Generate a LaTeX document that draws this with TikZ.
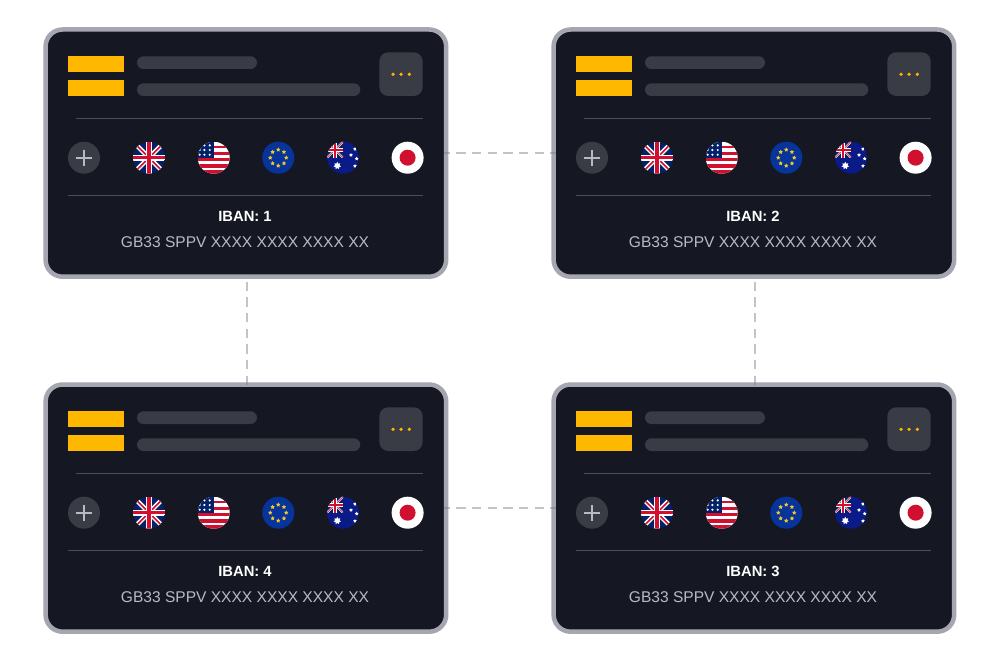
\documentclass[tikz,border=0pt]{standalone}
\usepackage{fontspec}
\setmainfont{Liberation Sans}
\definecolor{cardbg}{HTML}{151823}
\definecolor{cardedge}{HTML}{A6A6B0}
\definecolor{gold}{HTML}{FFB800}
\definecolor{pill}{HTML}{393C45}
\definecolor{rulec}{HTML}{4C4E59}
\definecolor{plusc}{HTML}{B9B9C1}
\definecolor{subtext}{HTML}{B9BAC2}
\definecolor{dashc}{HTML}{7C7A8A}
\definecolor{ukblue}{HTML}{012169}
\definecolor{flagred}{HTML}{D0102E}
\definecolor{eublue}{HTML}{06349B}
\definecolor{eustar}{HTML}{F5C82A}
\definecolor{aublue}{HTML}{0A1A86}
\newcommand{\starpath}[1]{(-90:#1) -- (-126:#1*.5) -- (-162:#1) -- (-198:#1*.5) -- (-234:#1) -- (-270:#1*.5) -- (-306:#1) -- (-342:#1*.5) -- (-18:#1) -- (-54:#1*.5) -- cycle}
\newcommand{\sevenpath}[1]{(-90:#1) -- (-115.7:#1*.6) -- (-141.4:#1) -- (-167.1:#1*.6) -- (-192.9:#1) -- (-218.6:#1*.6) -- (-244.3:#1) -- (-270:#1*.6) -- (-295.7:#1) -- (-321.4:#1*.6) -- (-347.1:#1) -- (-12.9:#1*.6) -- (-38.6:#1) -- (-64.3:#1*.6) -- cycle}
% #1 = half size, #2..#5 = widths of white diagonal, red diagonal, white cross, red cross
\newcommand{\unionjack}[5]{%
  \fill[ukblue] (-#1,-#1) rectangle (#1,#1);
  \draw[white,line width=#2pt] (-#1,-#1) -- (#1,#1) (-#1,#1) -- (#1,-#1);
  \draw[flagred,line width=#3pt] (-#1,-#1) -- (#1,#1) (-#1,#1) -- (#1,-#1);
  \draw[white,line width=#4pt] (-#1,0) -- (#1,0) (0,-#1) -- (0,#1);
  \draw[flagred,line width=#5pt] (-#1,0) -- (#1,0) (0,-#1) -- (0,#1);
}
\tikzset{
  x=1pt,y=-1pt,
  cardbox/.style={rectangle,draw=cardedge,fill=cardbg,line width=4.5pt,rounded corners=17pt,minimum width=400.6pt,minimum height=247.2pt,inner sep=0pt,outer sep=0pt},
  goldbar/.style={fill=gold},
  greypill/.style={fill=pill,rounded corners=6.4pt},
  hairline/.style={draw=rulec,line width=1pt},
  link/.style={draw=dashc,draw opacity=.45,line width=1.8pt,dash pattern=on 9.3pt off 6.37pt},
  ibanhead/.style={font=\fontsize{14.8}{16}\selectfont\bfseries,text=white,inner sep=0pt},
  ibansub/.style={font=\fontsize{15.55}{17}\selectfont,text=subtext,inner sep=0pt},
  ukflag/.pic={
    \begin{scope}\clip (0,0) circle[radius=16];\unionjack{16}{4.6}{1.5}{6.4}{3.2}\end{scope}
  },
  usflag/.pic={
    \begin{scope}
      \clip (0,0) circle[radius=16];
      \fill[white] (-16,-16) rectangle (16,16);
      \foreach \a/\b in {-12/-9.5,-6/-3,0/3,6.5/10.5,12.5/16} \fill[flagred] (-16,\a) rectangle (16,\b);
      \fill[ukblue] (-16,-16) rectangle (0,0);
      \foreach \px in {-14,-9.3,-4} \foreach \py in {-12.3,-7.7,-3} \fill[white] (\px,\py) circle[radius=1.2];
    \end{scope}
  },
  euflag/.pic={
    \fill[eublue] (0,0) circle[radius=16];
    \foreach \t in {0,45,...,315} {
      \fill[eustar,shift={(\t:8)}] \starpath{2.3};
    }
  },
  auflag/.pic={
    \begin{scope}
      \clip (0,0) circle[radius=16];
      \fill[aublue] (-16,-16) rectangle (16,16);
      \begin{scope}
        \clip (-16,-16) rectangle (0,0);
        \begin{scope}[shift={(-8,-8)}]\unionjack{8}{2}{.7}{3.6}{2}\end{scope}
      \end{scope}
      \fill[white,shift={(-5.7,8)}] \sevenpath{3.8};
      \foreach \px/\py in {8/-2.7,12/-8.7,13.7/1,12/8.3} \fill[white,shift={(\px,\py)}] \starpath{2};
    \end{scope}
  },
  jpflag/.pic={
    \fill[white] (0,0) circle[radius=16];
    \fill[flagred] (0,0) circle[radius=8];
  },
}
\newcommand{\bankcard}[4]{%
  \node[cardbox] (#1) at (245.9+#2,153.1+#3) {};
  \begin{scope}[shift={(#2,#3)}]
    \fill[goldbar] (68.3,56.3) rectangle (123.7,72.3);
    \fill[goldbar] (68.3,80.3) rectangle (123.7,96);
    \fill[greypill] (137,56.3) rectangle (257,69);
    \fill[greypill] (137,83.3) rectangle (360.3,96);
    \fill[pill,rounded corners=9pt] (379.3,52.3) rectangle (422.7,96);
    \foreach \dx in {393,401,409.3} \fill[gold] (\dx,74.3) circle[radius=1.8];
    \draw[hairline] (76,118.7) -- (423.3,118.7);
    \fill[pill] (84,157.7) circle[radius=16];
    \draw[plusc,line width=2.3pt] (76,157.7) -- (92,157.7) (84,149.7) -- (84,165.7);
    \pic at (149,157.7) {ukflag};
    \pic at (213.7,157.7) {usflag};
    \pic at (278.3,157.7) {euflag};
    \pic at (343,157.7) {auflag};
    \pic at (407.6,157.7) {jpflag};
    \draw[hairline] (68.3,195.3) -- (423.3,195.3);
    \node[ibanhead] (#1head) at (245,216.6) {IBAN: #4};
    \node[ibansub] (#1sub) at (245,242) {GB33 SPPV XXXX XXXX XXXX XX};
  \end{scope}
}
\begin{document}
\begin{tikzpicture}
\useasboundingbox (0,0) rectangle (998,658);
\fill[white] (0,0) rectangle (998,658);
\bankcard{cardA}{0}{0}{1}
\bankcard{cardB}{508}{0}{2}
\bankcard{cardC}{508}{355}{3}
\bankcard{cardD}{0}{355}{4}
\path[link,dash phase=8.3pt,shorten <=-2.3pt,shorten >=-2.3pt] ([xshift=1pt]cardA.south) -- ([xshift=1pt]cardD.north);
\path[link,dash phase=8.3pt,shorten <=-2.3pt,shorten >=-2.3pt] ([xshift=1pt]cardB.south) -- ([xshift=1pt]cardC.north);
\path[link,dash phase=3.2pt,shorten <=-2.3pt,shorten >=-2.3pt] (cardA.east) -- (cardB.west);
\path[link,dash phase=3.2pt,shorten <=-2.3pt,shorten >=-2.3pt] (cardD.east) -- (cardC.west);
\end{tikzpicture}
\end{document}
